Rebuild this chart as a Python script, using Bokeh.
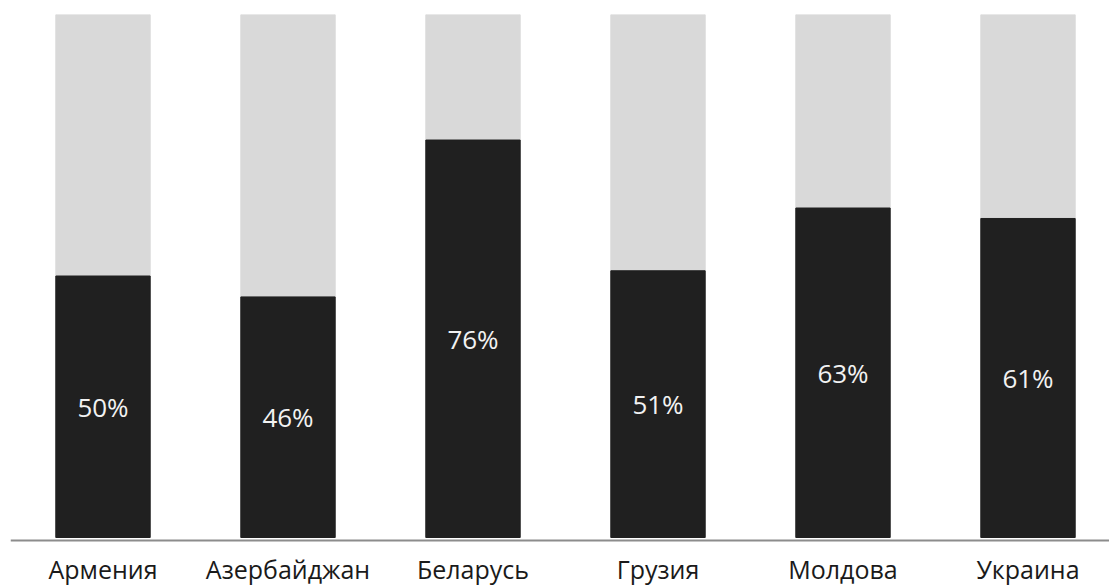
from bokeh.plotting import figure
from bokeh.models import Range1d, ColumnDataSource, Span
from bokeh.core.properties import value
from bokeh.embed import file_html
from bokeh.resources import INLINE

countries = ["Армения", "Азербайджан", "Беларусь", "Грузия", "Молдова", "Украина"]
share = [50, 46, 76, 51, 63, 61]
total = [100, 100, 100, 100, 100, 100]
labels = [f"{v}%" for v in share]

xs = list(range(len(countries)))
src = ColumnDataSource(dict(
    x=xs, share=share, total=total, labels=labels, names=countries,
    mid=[v / 2 for v in share], base=[0] * len(xs),
))

# frame spans pixel rows 14..586; y=0 sits at row 537, y=100 at row 14
px_per_unit = (537 - 14) / 100
y_start = -(586 - 537) / px_per_unit

p = figure(width=1109, height=586, output_backend="svg", toolbar_location=None,
           x_range=Range1d(-0.5, -0.5 + 1099 / 185), y_range=Range1d(y_start, 100),
           min_border_left=10, min_border_right=0, min_border_top=14, min_border_bottom=0)

p.vbar(x="x", top="total", bottom=0, width=0.51, color="#d9d9d9", source=src)
p.vbar(x="x", top="share", bottom=0, width=0.51, color="#202020", source=src)
p.text(x="x", y="mid", text="labels", source=src, text_align="center", text_baseline="middle",
       text_color="#f2f2f2", text_font=value("Open Sans"), text_font_size="26px")

# baseline (category axis line)
p.add_layout(Span(location=-3 / px_per_unit, dimension="width", line_color="#8c8c8c", line_width=2))

# category labels below the baseline
p.text(x="x", y="base", text="names", source=src, text_align="center", text_baseline="bottom",
       y_offset=48, text_color="#1a1a1a", text_font=value("Open Sans"), text_font_size="25px")

p.xaxis.visible = False
p.yaxis.visible = False
p.xgrid.visible = False
p.ygrid.visible = False
p.outline_line_color = None

open("out.html", "w").write(file_html(p, INLINE))
